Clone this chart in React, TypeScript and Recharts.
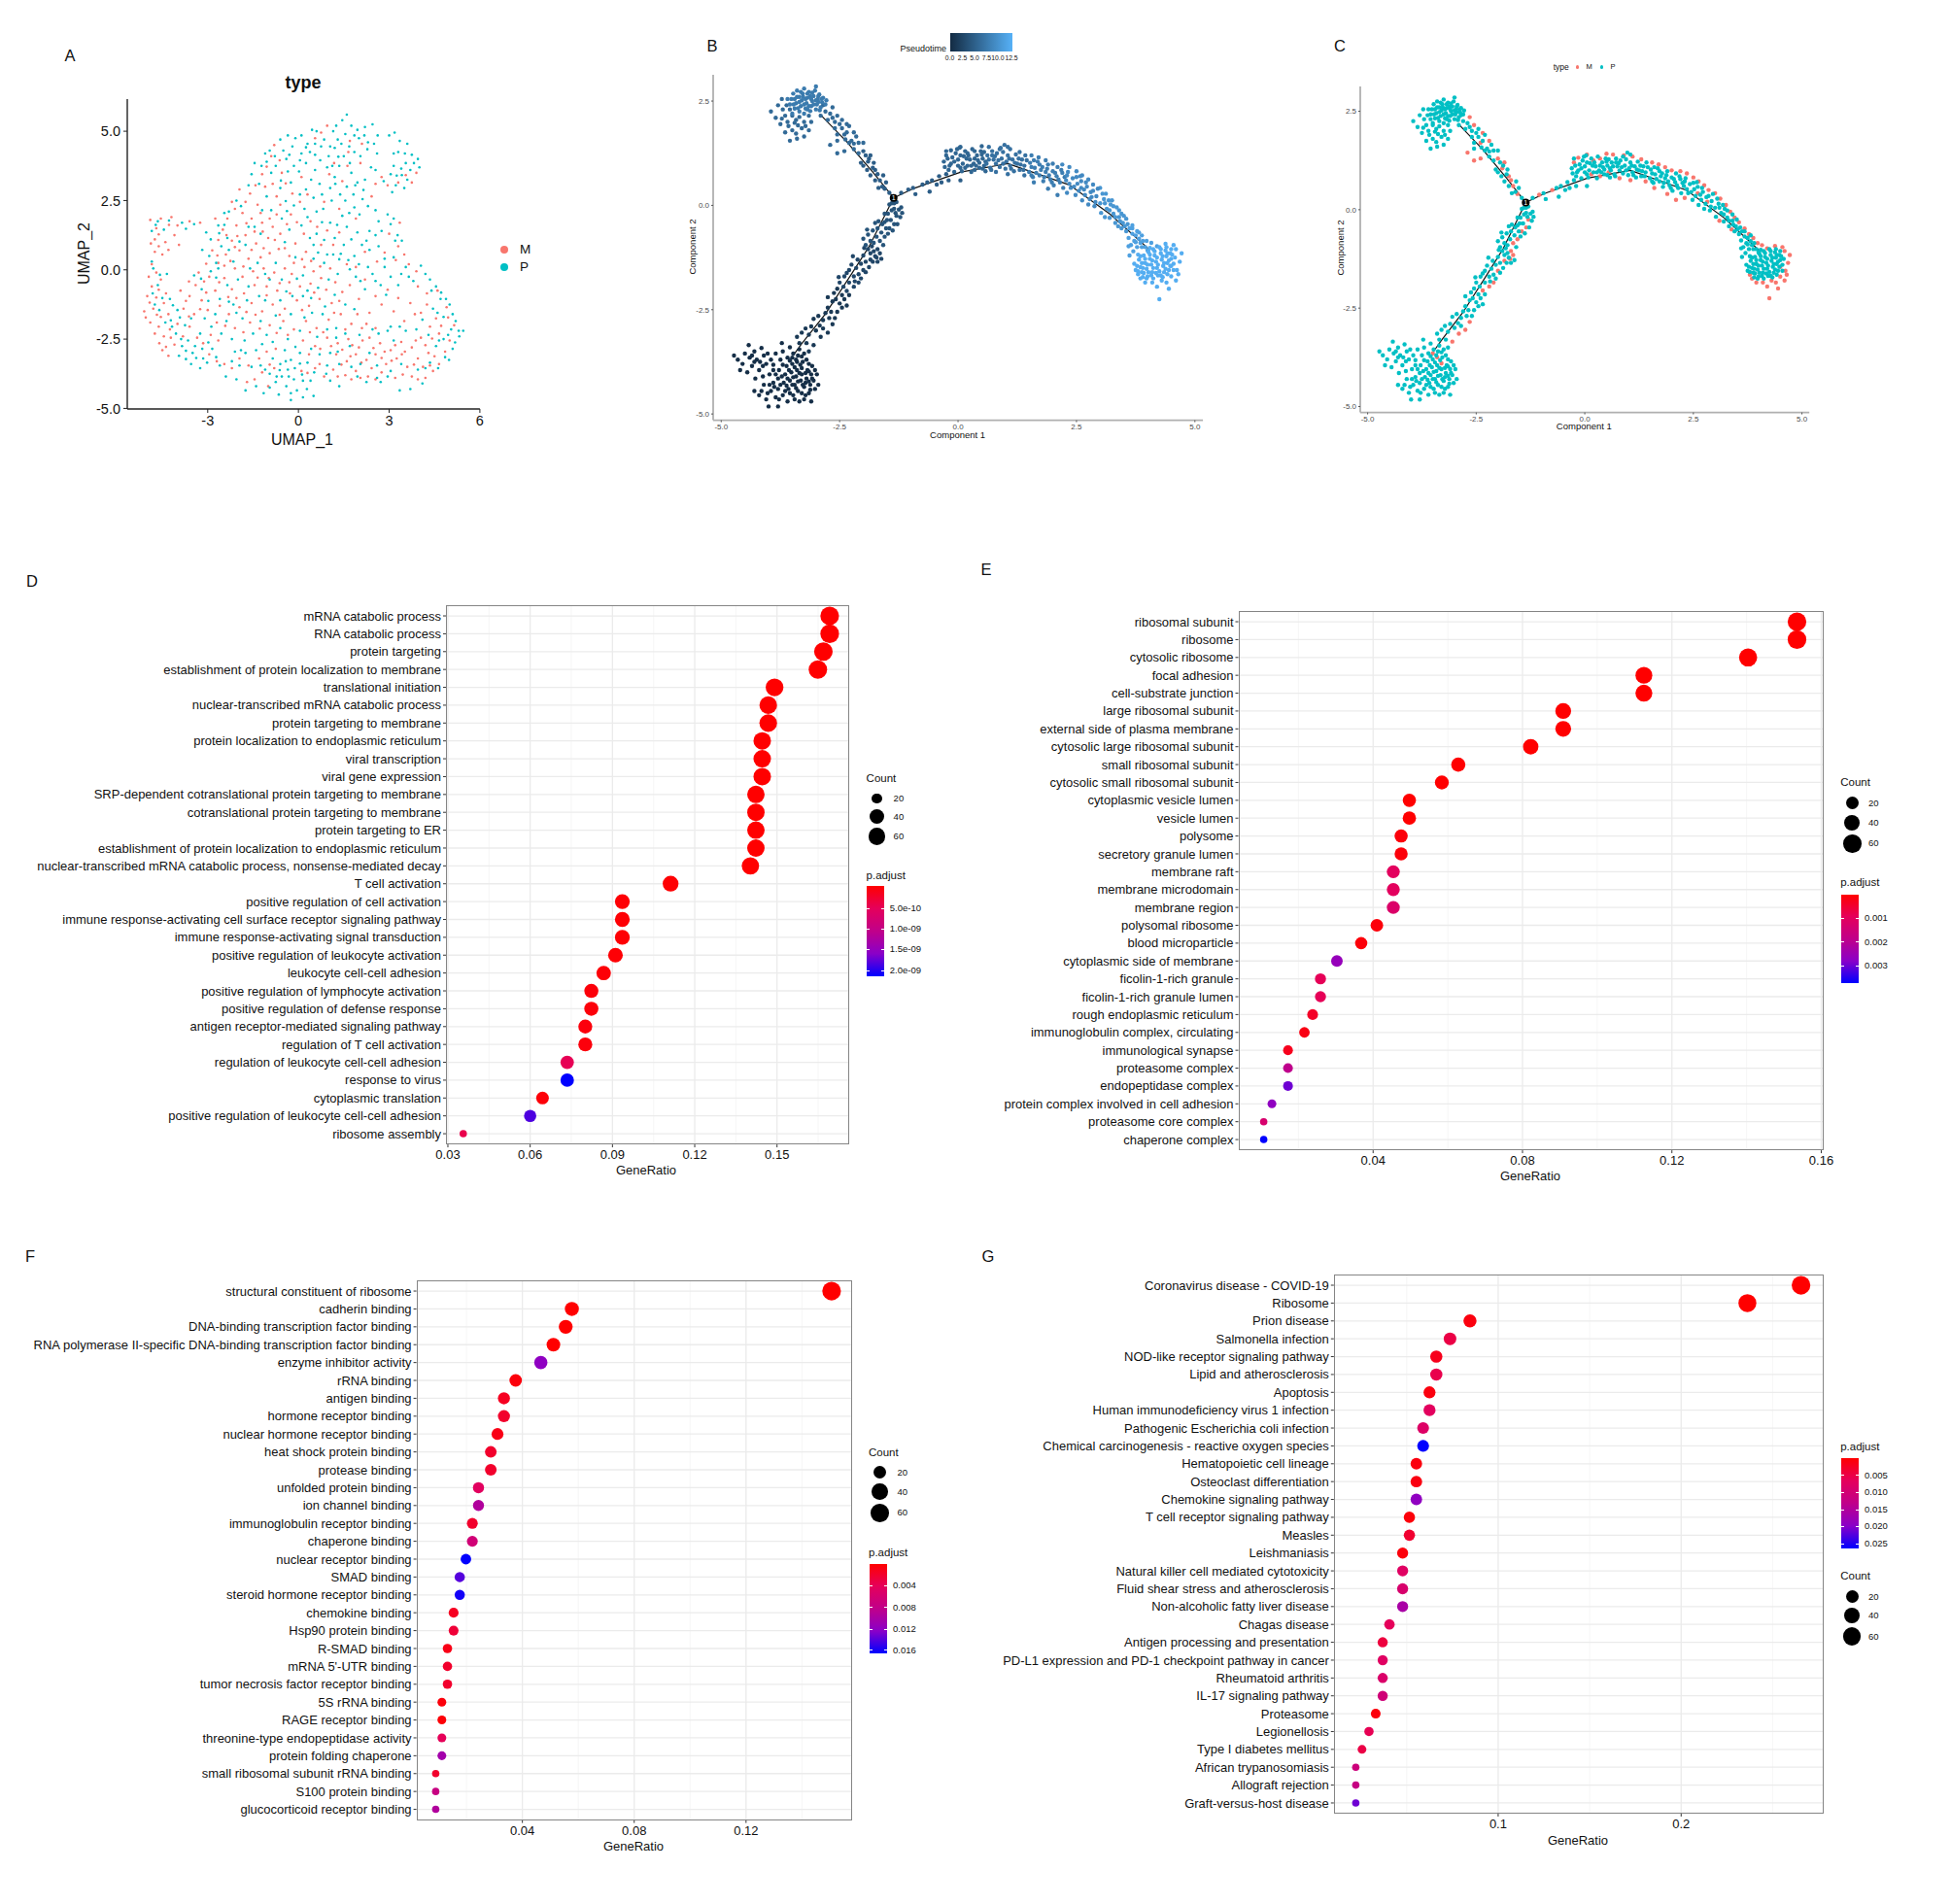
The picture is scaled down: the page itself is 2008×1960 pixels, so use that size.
import React from 'react';
import { CartesianGrid, Scatter, ScatterChart, XAxis, YAxis } from 'recharts';

const FONT = '"Liberation Sans", Arial, sans-serif';
const RED = '#F8766D';
const TEAL = '#00BFC4';
const GRADIENT = ['#FF0000', '#E5005B', '#C0008A', '#8A00C8', '#0000FF'];

// panel A, UMAP cells (thinned out)
const umapM = [
  [-4.9,1.8],[-4.7,1.5],[-4.75,1.1],[-4.55,1.85],[-4.2,1.9],[-4.0,1.6],[-4.1,1.25],[-4.4,1.0],[-3.95,.9],[-4.75,.65],[-4.5,.55],[-4.85,.2],[-4.7,-.1],[-4.55,-.35],[-4.85,-.6],[-5.0,-.95],[-4.7,-1.0],[-4.45,-1.2],[-5.1,-1.5],[-4.8,-1.4],[-4.55,-1.7],[-4.9,-1.9],[-4.3,-1.6],[-4.75,-2.3],[-4.45,-2.4],[-4.5,-2.9],[-4.3,-3.1],[-4.1,-2.7],[-4.0,-1.95],[-3.8,-1.4],[-3.6,-.95],[-3.9,-.75],
  [-3.4,-.55],[-3.2,-1.1],[-3.45,-1.6],[-3.0,-1.45],[-2.75,-.75],[-2.95,-.25],[-3.3,-.1],[-2.65,.25],[-2.85,.7],[-2.4,.55],[-2.2,1.05],[-2.5,1.45],[-2.75,1.85],[-3.25,1.7],[-3.6,1.75],[-2.35,1.85],[-2.05,1.6],[-1.85,2.05],[-2.2,2.45],[-1.95,2.9],[-1.6,2.75],[-1.35,2.35],[-1.55,1.85],[-1.2,1.7],[-1.75,1.25],[-1.4,.95],[-1.0,1.15],[-.85,1.55],[-.6,1.3],[-1.95,.7],[-1.65,.4],[-1.25,.45],[-.95,.6],[-.65,.75],[-.3,.5],[-.1,.95],[.25,.65],[-2.1,.05],[-1.85,-.25],[-1.5,-.05],[-1.15,.05],[-.8,-.1],[-.45,.05],[-.15,.25],[.2,.1],[.5,-.05],[-2.45,-.3],[-2.2,-.7],[-1.8,-.85],[-1.45,-.55],[-1.05,-.6],[-.7,-.75],[-.3,-.45],[.05,-.6],[.4,-.5],[.75,-.3],[1.05,.05],
  [-2.6,-1.3],[-2.3,-1.6],[-1.95,-1.35],[-1.55,-1.2],[-1.2,-1.5],[-.85,-1.25],[-.45,-1.4],[-.05,-1.1],[.35,-1.3],[.7,-1.05],[1.1,-1.2],[1.45,-.8],[-2.7,-1.9],[-2.1,-2.1],[-1.6,-1.9],[-.95,-2.0],[-.5,-1.85],[-.15,-2.15],[.25,-1.85],[.6,-2.1],[1.0,-1.8],[1.4,-1.6],[1.75,-1.95],[2.1,-2.1],[.15,-2.55],[.55,-2.75],[.95,-2.45],[1.3,-2.65],[1.65,-2.5],[2.0,-2.8],[2.35,-2.45],[2.7,-2.65],[3.05,-2.9],[3.4,-2.6],[3.75,-2.8],[4.05,-2.45],[1.25,-3.05],[1.6,-3.3],[1.9,-3.05],[2.25,-3.25],[2.55,-3.05],[2.9,-3.4],[3.25,-3.2],[3.6,-3.5],[3.95,-3.2],[4.3,-3.0],[4.65,-3.4],[4.85,-2.95],[1.15,-3.6],[1.55,-3.8],[1.9,-3.65],[2.3,-3.85],[2.75,-3.7],[3.2,-3.9],[3.75,-3.85],[4.2,-3.9],[4.45,-3.65],[-1.45,-3.95],[-1.0,-4.2],[-.8,-3.55],[.1,-3.65],[.7,-3.4],[.85,-3.85],[-2.95,-3.05],[-2.45,-3.4],[-1.95,-3.2],[-1.3,-3.2],[-.75,-2.85],[-3.6,-2.05],[-3.35,-2.45],[-2.9,-2.35],
  [4.55,-1.75],[4.9,-1.35],[5.15,-2.0],[5.0,-2.55],[4.65,-2.3],[4.35,-2.05],[4.6,-.75],[4.25,-1.25],[3.85,-1.6],[3.5,-1.85],[3.15,-1.5],[2.75,-1.25],[2.35,-1.55],[2.0,-1.05],[1.7,-.55],[3.9,-.05],[3.3,.85],[3.0,1.3],[3.35,1.7],[3.5,.55],[2.6,.3],[1.6,.2],[1.35,1.35],[.75,.9],[.4,1.75],[-.25,2.0],[-.6,2.35],[-.2,2.75],[-.85,3.1],[-.55,3.5],[.1,3.35],[-1.2,3.45],[-.9,4.1],[-.8,4.5],[.95,5.2],[.75,4.95],[1.7,4.65],[2.1,4.55],[2.05,3.85],[1.45,3.2],[2.55,3.1],[2.95,3.05],[3.3,3.15],[3.9,3.5],[1.35,2.2],[.85,2.45],[1.9,1.85],
  [-4.62,1.28],[-4.88,.95],[-4.28,1.62],[-4.62,.85],[-4.3,.72],[-4.95,-.25],[-4.62,-.72],[-4.38,-.85],[-4.92,-1.18],[-4.68,-1.62],[-5.05,-1.72],[-4.62,-2.05],[-4.25,-2.15],[-4.6,-2.65],[-4.22,-2.45],[-4.38,-2.78],[-3.82,-2.4],[-3.62,-1.68],[-3.72,-1.12],[-3.25,-1.42],[-3.05,-.82],[-3.62,-.42],[-3.12,-.42],[-3.05,.22],[-2.62,-.45],[-2.45,.15],[-2.68,.52],[-2.25,.32],[-2.1,.82],[-2.38,1.25],[-2.65,1.08],[-2.02,1.22],[-1.72,1.68],[-1.45,1.38],[-1.18,1.38],[-.95,1.85],[-1.25,2.05],[-1.75,2.45],[-1.42,3.05],[-2.1,2.2],[-.72,2.0],[-.38,1.65],[-.45,.78],[-.78,1.08],[-1.55,.72],[-1.15,.78],[-1.82,.12],[-1.35,-.28],[-.98,-.3],[-.62,-.48],[-.22,-.15],[.12,.38],[.42,.32],[.72,.12],[-2.32,-.98],[-2.05,-1.02],[-1.72,-1.52],[-1.42,-1.62],[-1.05,-.92],[-.62,-1.62],[-.28,-.85],[.12,-1.45],[.52,-.82],[.92,-.72],[1.22,-.45],[1.35,-1.12],[-2.42,-2.02],[-1.82,-2.25],[-1.28,-2.12],[-.72,-2.28],[-.35,-2.35],[.38,-2.25],[.82,-2.25],[1.18,-1.55],[1.55,-2.15],[1.95,-1.6],[2.25,-1.95],[2.55,-2.1],[.35,-3.05],[.72,-2.85],[1.08,-2.75],[1.45,-2.88],[1.78,-2.72],[2.12,-2.55],[2.48,-2.82],[2.85,-2.95],[3.2,-2.72],[3.52,-2.95],[3.88,-2.55],[4.2,-2.72],[1.42,-3.42],[1.72,-3.12],[2.08,-3.35],[2.42,-3.55],[2.75,-3.18],[3.08,-3.28],[3.42,-3.05],[3.82,-3.42],[4.12,-3.5],[4.5,-3.12],[1.3,-3.85],[1.75,-3.95],[2.05,-3.9],[2.55,-3.95],[3.45,-3.78],[3.95,-3.95],[4.35,-3.45],[-1.7,-4.05],[-1.2,-3.7],[-.95,-3.42],[.3,-3.72],[.55,-3.55],[-2.7,-3.3],[-2.2,-3.55],[-1.65,-3.45],[-1.05,-2.95],[-3.15,-2.65],[-2.65,-2.55],[4.72,-2.02],[4.95,-1.72],[4.42,-2.48],[4.25,-.85],[4.05,-1.55],[3.7,-1.2],[3.3,-1.02],[2.95,-.72],[2.55,-.95],[2.2,-.35],[3.95,-.6],[3.65,.2],[3.22,.35],[2.85,.62],[2.2,.65],[1.9,.1],[1.15,.9],[.95,1.42],[.62,1.55],[.18,1.3],[-.05,1.72],[.05,2.45],[.3,2.72],[-.42,3.12],[-.72,2.65],[-1.1,3.0],[-1.05,3.72],[-.62,3.95],[1.02,3.45],[1.18,3.85],[1.65,4.25],[.55,4.75],[1.62,3.75],[2.42,2.65],[3.55,3.42],[3.75,3.15],[2.75,3.35]
];
const umapP = [
  [-4.65,1.75],[-4.85,1.4],[-4.45,1.45],[-3.85,1.7],[-3.45,1.65],[-3.05,1.35],[-4.85,.3],[-4.65,-.55],[-4.35,-.15],[-4.75,-1.25],[-4.25,-1.05],[-4.0,-1.45],[-3.75,-2.0],[-4.4,-1.9],[-4.05,-2.3],[-3.65,-2.55],[-3.25,-2.3],[-3.85,-2.75],[-3.5,-3.0],[-3.95,-3.1],[-3.55,-3.4],[-3.15,-3.2],[-3.25,-3.55],[-2.85,-2.85],[-2.6,-3.45],[-3.1,-1.75],[-2.55,-2.3],[-2.2,-2.5],[-2.75,-1.6],[-3.2,-.7],[-3.45,-.2],[-2.9,-.05],[-2.65,.05],[-2.95,.5],[-2.55,.85],[-2.9,1.1],[-2.35,1.15],[-2.15,.3],[-2.0,-.35],[-1.65,-.6],[-1.3,-.95],[-2.3,-1.15],[-1.85,-1.75],[-1.25,-1.85],[-.75,-1.65],[-1.5,-2.3],[-1.05,-2.35],[-.35,-2.5],[.05,-2.2],[.45,-1.55],[.8,-1.6],[1.25,-2.1],[1.55,-2.3],[1.3,-2.95],[1.7,-2.75],[1.05,-3.0],[2.35,-3.0],[2.65,-2.3],[2.95,-2.2],[3.15,-2.55],[3.55,-2.2],[3.9,-2.15],[4.1,-1.8],[4.45,-1.4],[4.7,-1.05],[4.8,-1.7],[5.1,-1.6],[5.3,-2.2],[5.45,-2.2],[5.05,-2.15],[4.8,-2.5],[4.55,-2.75],[4.85,-3.15],[4.35,-3.35],[3.95,-3.6],[3.4,-3.4],[3.05,-3.65],[2.6,-3.45],[3.35,-4.35],[3.7,-4.3],[4.1,-4.1],[4.35,-.35],[4.55,-.6],[4.05,.15],[3.65,-.25],[3.3,-.55],[2.9,-.9],[2.55,-.4],[2.2,-.7],[1.9,-.25],[2.3,.1],[2.85,.1],[3.15,.45],[3.2,1.05],[3.05,1.65],[2.65,1.75],[2.35,1.4],[2.1,.9],[2.65,.85],[1.85,.5],[1.5,.9],[1.15,.55],[1.2,1.15],[.85,.25],[.5,.4],[.15,-.2],[.6,1.3],[1.05,1.7],[1.6,1.55],[1.45,1.95],[1.85,2.25],[2.3,2.3],[1.55,2.5],[1.1,2.5],[.6,2.1],[.2,2.2],[.1,1.6],[-.3,1.45],[-.55,1.85],[-.9,2.15],[-1.2,2.15],[-1.05,2.65],[-.6,2.95],[-.25,3.15],[.25,2.9],[.5,2.6],[.7,3.1],[1.05,2.95],[1.2,3.35],[1.6,3.0],[1.75,3.5],[1.35,3.75],[.95,3.7],[.55,3.6],[.25,3.85],[-.15,3.75],[-.4,4.0],[-.75,3.75],[-1.05,3.9],[-1.3,3.1],[-1.55,3.45],[-1.65,3.05],[-2.05,2.5],[-2.3,2.1],[-2.65,1.6],[-.95,4.3],[-.6,4.7],[-.5,4.3],[-.2,4.45],[.1,4.2],[.3,4.55],[.55,4.15],[.75,4.45],[1.0,4.1],[1.2,4.4],[1.5,4.1],[1.85,4.25],[.1,4.85],[.45,5.05],[.85,4.7],[1.15,5.0],[1.3,4.7],[1.45,5.4],[1.6,5.6],[1.75,5.2],[1.95,5.05],[2.2,5.15],[2.45,5.25],[1.55,4.9],[2.0,4.75],[2.5,4.55],[2.6,4.2],[3.0,4.85],[3.35,4.65],[3.6,4.55],[3.75,4.15],[3.55,3.85],[3.95,4.0],[4.0,3.7],[3.7,3.6],[3.4,3.65],[3.15,3.75],[3.25,3.4],[3.6,3.25],[3.05,3.45],[2.55,3.6],[3.5,2.95],[3.1,2.8],[2.4,3.7],[2.2,3.25],[1.95,3.15],
  [-2.15,-1.25],[-1.7,-1.1],[-1.1,-1.1],[-.6,-1.1],[-.2,-.95],[.15,-.95],[-.95,-.35],[-.55,-.35],[-1.35,.25],[-1.75,.9],[-1.25,1.3],[-.45,1.0],[-.75,.25],[-.1,.45],[.5,.9],[-1.65,1.55],[-1.9,2.3],[-1.45,1.55],[-2.45,2.05],
  [-.85,-3.2],[-.6,-3.4],[-.35,-3.6],[-.55,-3.85],[-.15,-3.95],[-.75,-4.05],[-.4,-4.2],[-.05,-4.35],[.15,-4.0],[-.95,-3.75],[-.25,-3.25],[-.45,-2.9],[.05,-3.0],[.3,-3.35],[.4,-4.0],[.5,-4.55],[.15,-4.6],[-.25,-4.7],[-.65,-4.5],[-1.15,-4.45],[-1.75,-4.35],[-2.05,-3.95],[-2.4,-3.85],[-1.95,-3.45],[-1.55,-3.5],[-1.4,-2.9],[-1.1,-3.6],[-2.1,-2.95],[.7,-3.05],[.95,-3.45],[1.35,-3.4],[1.35,-4.2],[1.75,-3.5],[2.05,-3.4],[2.6,-3.9],[.95,-2.15],[1.25,-2.45],
  [-4.72,1.62],[-4.28,1.78],[-3.72,1.48],[-4.8,.05],[-4.58,-.18],[-4.82,-.85],[-4.5,-1.02],[-4.15,-1.28],[-4.6,-1.45],[-4.22,-1.82],[-3.92,-1.72],[-3.55,-1.75],[-4.18,-2.05],[-3.88,-2.5],[-3.42,-2.75],[-3.72,-3.22],[-3.38,-3.18],[-3.02,-3.35],[-3.72,-2.92],[-3.18,-2.85],[-2.98,-2.62],[-2.72,-3.15],[-2.88,-2.05],[-2.38,-1.85],[-2.05,-1.55],[-2.6,-1.05],[-2.98,-1.12],[-3.22,-.32],[-2.72,-.28],[-2.35,-.55],[-2.3,.72],[-2.72,.25],[-3.18,.72],[-2.45,1.62],[-2.62,1.32],[-1.95,1.02],[-1.6,.05],[-1.1,-.15],[-.4,-.78],[-.05,-.32],[.3,-.75],[.65,-.65],[1.0,-.35],[1.3,-.15],[1.7,.02],[2.05,-.4],[2.45,-.15],[2.72,-.55],[3.05,-.25],[3.4,-.15],[3.55,.1],[3.8,-.4],[4.2,-.15],[4.4,-.75],[4.72,-.82],[4.88,-1.05],[5.0,-1.25],[4.6,-1.55],[5.2,-1.85],[5.32,-2.4],[5.18,-2.62],[4.95,-2.35],[4.65,-2.55],[4.3,-2.35],[5.1,-2.85],[4.98,-3.25],[4.62,-3.55],[4.2,-3.55],[2.95,-3.85],[3.05,-2.05],[3.35,-2.05],[2.45,-2.15],[2.02,-2.35],[1.85,-1.42],[1.55,-1.25],[1.2,-.9],[.88,-1.32],[.42,-1.02],[.2,-1.72],[-.25,-1.6],[-.6,-2.1],[-.85,-2.6],[-1.2,-2.68],[-1.78,-2.55],[-1.9,-2.9],[-.1,-2.78],[.42,-2.85],[.62,-2.42],[2.85,.4],[2.35,.72],[2.0,.2],[1.65,.35],[1.35,.38],[.95,.55],[.65,.62],[.85,1.08],[1.4,.58],[1.75,1.1],[1.95,1.35],[2.25,1.05],[2.55,1.25],[2.75,1.4],[3.15,1.85],[3.28,1.25],[3.42,1.05],[2.95,2.0],[2.55,2.15],[2.12,2.55],[2.02,2.0],[1.68,2.05],[1.28,1.62],[.78,1.72],[.38,1.15],[.82,2.2],[.3,1.9],[-.15,2.32],[-.42,2.48],[-.38,2.12],[.05,2.72],[.78,2.72],[1.38,2.72],[1.82,2.72],[1.88,3.05],[2.15,2.88],[1.22,3.1],[.42,3.25],[.02,3.55],[-.35,3.55],[-.58,3.22],[-.9,3.5],[-1.22,3.75],[-1.45,3.85],[-1.1,4.2],[-.78,4.1],[-.3,4.15],[.05,3.95],[.38,4.25],[.72,3.95],[1.12,3.75],[1.32,4.08],[1.7,3.85],[2.05,4.1],[2.28,4.35],[-.35,4.85],[-.1,4.75],[.25,4.42],[.55,4.55],[.6,5.0],[1.05,4.45],[1.25,5.2],[1.42,4.55],[1.68,4.45],[1.85,4.85],[2.18,4.85],[2.3,4.6],[2.62,4.85],[3.18,4.95],[3.3,4.25],[3.52,4.2],[3.15,4.2],[3.82,3.85],[3.42,3.42],[3.22,3.05],[2.82,3.2],[-.32,-3.85],[-.62,-3.62],[-.12,-3.55],[.12,-3.78],[-.42,-3.3],[-.72,-3.85],[-.25,-4.45],[.28,-4.3],[.05,-3.38],[-.95,-4.25],[-1.4,-4.2],[-2.2,-3.3],[-1.75,-3.0],[-1.25,-3.45],[.52,-3.7],[.92,-3.75],[1.05,-4.0],[1.95,-3.85],[2.25,-4.05],[2.72,-4.05]
];

// panels B and C share the same cells, grouped along the tree by pseudotime
const cellBands = [
  { pseudotime: 0.3, m: [[-3.4,-3.75],[-3.3,-3.9],[-3.5,-3.65]], p: [
    [-4.73,-3.6],[-4.65,-3.7],[-4.55,-3.8],[-4.6,-3.95],[-4.5,-3.55],[-4.42,-3.35],[-4.4,-3.65],[-4.35,-3.85],[-4.45,-4.0],[-4.3,-3.5],[-4.25,-3.7],[-4.2,-3.95],[-4.15,-3.42],[-4.1,-3.6],[-4.05,-3.8],[-4.28,-4.15],[-4.12,-4.1],[-3.98,-4.05],[-3.95,-3.7],[-4.3,-4.45],[-4.2,-4.55],[-4.1,-4.3],[-4.05,-4.65],[-3.95,-4.45],[-3.9,-4.25],[-4.0,-4.82],[-3.85,-4.6],[-3.8,-4.82],[-3.8,-4.4],[-3.8,-4.15],[-3.78,-3.95],[-3.75,-3.7],[-3.7,-3.5],[-3.68,-4.25],[-3.7,-4.55],[-3.65,-4.05],[-3.62,-3.85],[-3.6,-3.65],[-3.58,-4.4],[-3.6,-4.7],[-3.55,-4.2],[-3.52,-4.0],[-3.5,-3.8],[-3.48,-3.55],[-3.48,-4.55],[-3.45,-4.3],[-3.42,-4.1],[-3.4,-3.95],[-3.38,-3.6],[-3.38,-4.45],[-3.35,-4.7],[-3.32,-4.2],[-3.3,-4.05],[-3.28,-3.75],[-3.25,-3.55],[-3.25,-4.35],[-3.22,-4.55],[-3.2,-4.15],[-3.18,-3.95],[-3.15,-3.8],[-3.12,-4.3],[-3.1,-4.05],[-3.08,-3.85],[-3.05,-4.2],[-3.02,-4.4],[-2.98,-4.05],[-2.95,-4.3],[-3.1,-4.7],[-3.35,-3.45],[-3.55,-3.4],[-3.85,-3.55],[-3.72,-3.3],[-3.15,-4.5],[-3.9,-3.95],
    [-3.85,-4.05],[-3.75,-4.3],[-3.72,-4.1],[-3.7,-3.82],[-3.62,-4.32],[-3.6,-4.15],[-3.57,-3.95],[-3.55,-3.72],[-3.55,-4.5],[-3.5,-4.3],[-3.48,-4.12],[-3.45,-3.88],[-3.42,-3.7],[-3.42,-4.38],[-3.38,-4.22],[-3.35,-4.02],[-3.33,-3.82],[-3.3,-3.62],[-3.3,-4.5],[-3.28,-4.3],[-3.22,-4.25],[-3.22,-4.02],[-3.2,-3.7],[-3.15,-4.22],[-3.15,-3.98],[-3.12,-4.42],[-3.08,-4.15],[-3.02,-3.95],[-4.35,-3.6],[-4.3,-3.75],[-4.18,-3.75],[-4.12,-3.85],[-4.02,-3.55],[-3.98,-4.3],[-4.02,-4.5],[-3.88,-4.35],[-3.9,-3.82],[-3.65,-4.45],[-3.45,-4.65],[-3.25,-4.65],[-4.15,-4.45],[-3.78,-4.65]
  ] },
  { pseudotime: 1.3, m: [[-3.05,-3.35],[-2.9,-3.15],[-2.75,-3.05],[-2.65,-2.85]], p: [
    [-3.35,-3.3],[-3.2,-3.3],[-3.3,-3.05],[-3.15,-3.1],[-3.1,-2.9],[-3.0,-3.0],[-3.05,-2.72],[-2.95,-2.65],[-3.15,-3.5],[-2.85,-2.75],[-2.85,-2.95],[-2.72,-2.7],[-2.75,-2.45],[-2.6,-2.7],[-2.65,-2.3],[-2.55,-2.55],[-2.5,-2.35],[-2.75,-2.2],[-2.45,-2.45],[-2.62,-2.1],[-2.4,-2.25],[-2.55,-2.0],[-2.3,-2.15],
    [-3.4,-3.15],[-3.22,-2.95],[-2.92,-2.88],[-2.8,-2.58],[-2.68,-2.55],[-2.58,-2.25],[-2.45,-2.15],[-2.35,-2.4]
  ] },
  { pseudotime: 2.6, m: [[-2.35,-2.05],[-2.2,-1.95],[-2.1,-1.85],[-2.0,-1.55],[-1.85,-1.3],[-1.72,-1.25],[-1.65,-1.15],[-1.7,-1.05]], p: [
    [-2.5,-1.85],[-2.42,-1.95],[-2.4,-1.7],[-2.3,-1.85],[-2.3,-1.55],[-2.2,-1.7],[-2.25,-1.42],[-2.15,-1.5],[-2.1,-1.65],[-2.12,-1.3],[-2.05,-1.4],[-2.0,-1.2],[-1.95,-1.35],[-1.9,-1.05],[-1.85,-1.15],[-1.8,-1.35],[-1.78,-1.1],
    [-2.52,-1.72],[-2.35,-1.62],[-2.18,-1.82],[-2.22,-1.22],[-2.05,-1.75],[-1.95,-1.6],[-1.88,-1.48],[-1.75,-1.22],[-1.98,-1.02],[-1.82,-.98],[-1.7,-1.35],[-1.62,-1.28]
  ] },
  { pseudotime: 3.9, m: [[-1.65,-.85],[-1.55,-.75],[-1.45,-.55],[-1.35,-.45],[-1.3,-.25]], p: [
    [-2.0,-.8],[-1.95,-.95],[-1.9,-.7],[-1.85,-.85],[-1.8,-.6],[-1.78,-.9],[-1.72,-.75],[-1.7,-.55],[-1.62,-.65],[-1.6,-.45],[-1.58,-.95],[-1.52,-.55],[-1.5,-.35],[-1.48,-.2],[-1.42,-.35],[-1.4,-.12],[-1.35,-.08],[-1.28,-.45],[-1.25,-.1],[-1.3,.08],[-1.4,.05],[-1.2,-.05],
    [-1.92,-.58],[-1.75,-.42],[-1.68,-.38],[-1.55,-.2],[-1.55,-.4],[-1.48,-.68],[-1.38,-.6],[-1.32,-.18],[-1.22,-.28],[-1.18,-.18],[-1.45,.02],[-1.35,.05]
  ] },
  { pseudotime: 4.8, m: [[-1.55,.4],[-1.65,.6],[-1.75,.85],[-1.9,1.05],[-1.7,.75],[-1.85,1.2],[-2.0,1.3],[-1.05,.38],[-.75,.5]], p: [
    [-1.45,.3],[-1.52,.55],[-1.6,.45],[-1.75,.6],[-1.8,.9],[-1.92,.85],[-2.05,1.02],[-1.95,1.2],[-1.2,.3],[-.95,.42],[-.9,.27],[-.65,.55],[-.6,.33],[-.55,.6],[-.45,.5],[-.4,.7],[-.35,.55],[-.25,.75],[-.2,.6],[.05,.6],
    [-1.58,.72],[-1.68,.42],[-1.85,.72],[-2.0,.95],[-1.88,1.12],[-1.78,1.02]
  ] },
  { pseudotime: 6.0, m: [[-2.4,1.3],[-2.55,1.25],[-2.7,1.45],[-2.2,1.75],[-2.35,1.95],[-2.55,2.15],[-2.65,2.35],[-2.4,1.7]], p: [
    [-2.1,1.25],[-2.2,1.35],[-2.1,1.5],[-2.0,1.5],[-2.25,1.55],[-2.3,1.5],[-2.15,1.65],[-2.35,1.75],[-2.45,1.85],[-2.3,1.9],[-2.5,1.95],[-2.45,2.05],[-2.6,2.0],[-2.55,1.7],[-2.7,2.2],[-2.75,2.05],[-2.8,2.25],[-2.85,2.4],[-2.9,2.15],
    [-3.55,1.55],[-3.4,1.6],[-3.25,1.65],[-3.65,1.75],[-3.5,1.8],[-3.3,1.85],[-3.15,1.8],[-3.75,1.95],[-3.6,2.0],[-3.45,1.98],[-3.25,2.0],[-3.1,2.0],[-3.85,2.1],[-3.65,2.15],[-3.5,2.15],[-3.35,2.12],[-3.15,2.15],[-3.7,2.3],[-3.8,2.4],[-3.95,2.25],[-3.55,2.3],[-3.72,2.55],
    [-3.42,1.72],[-3.58,1.9],[-3.38,1.92],[-3.22,1.9],[-3.72,2.08],[-3.42,2.05],[-3.62,2.4],[-2.6,1.85],[-2.65,2.1],[-2.38,1.58],[-2.2,1.48],[-2.55,1.55]
  ] },
  { pseudotime: 7.6, m: [], p: [
    [-3.5,2.2],[-3.45,2.32],[-3.42,2.45],[-3.4,2.6],[-3.35,2.25],[-3.32,2.38],[-3.3,2.52],[-3.28,2.68],[-3.25,2.2],[-3.22,2.32],[-3.2,2.45],[-3.18,2.58],[-3.15,2.72],[-3.12,2.26],[-3.1,2.38],[-3.08,2.5],[-3.05,2.62],[-3.02,2.75],[-3.0,2.3],[-2.98,2.42],[-2.96,2.55],[-2.93,2.66],[-2.9,2.35],[-2.87,2.47],[-2.85,2.58],[-3.55,2.42],[-3.52,2.55],[-3.48,2.68],[-3.25,2.8],[-3.0,2.85],[-3.4,2.75],[-2.8,2.42],[-2.78,2.52],[-3.6,2.55],[-3.35,2.48],[-3.15,2.38],[-3.05,2.42],[-2.95,2.48],[-3.27,2.6],[-3.12,2.62],[-3.38,2.33],
    [-3.47,2.42],[-3.45,2.55],[-3.35,2.6],[-3.22,2.55],[-3.25,2.42],[-3.1,2.55],[-3.18,2.3],[-3.0,2.52],[-2.92,2.28],[-2.88,2.55],[-3.32,2.72],[-3.08,2.7],[-2.95,2.62],[-3.18,2.68]
  ] },
  { pseudotime: 5.6, m: [[-.25,1.2],[-.15,1.32],[.05,1.4],[.2,1.25],[.15,.9],[.35,1.3],[.35,.85],[.5,1.42],[.55,.95]], p: [
    [-.3,1.05],[-.28,.92],[-.25,1.3],[-.2,.85],[-.15,1.0],[-.12,1.15],[-.08,.8],[-.05,1.25],[0,.95],[0,1.1],[.03,1.38],[.08,.82],[.1,1.0],[.12,1.18],[.15,1.3],[.2,.95],[.25,1.1],[.28,.8],[.3,1.35],[.33,1.0],[.4,1.2],[.42,1.08],[.45,.9],[.48,1.3],[.52,1.12],[.55,1.28],[.58,.82],
    [-.22,1.12],[-.18,.95],[-.08,1.05],[-.02,1.35],[.05,1.2],[.05,.9],[.18,1.12],[.22,1.2],[.28,.95],[.35,1.12],[.38,.95],[.45,1.02],[.5,1.22],[.52,.88],[.58,1.05]
  ] },
  { pseudotime: 6.6, m: [[.65,1.4],[.8,.8],[.9,1.38],[1.1,1.35],[1.05,.75],[1.3,1.28],[1.4,.72]], p: [
    [.6,1.0],[.62,1.2],[.68,.9],[.72,1.3],[.75,1.1],[.8,1.0],[.82,1.25],[.88,.92],[.92,1.12],[.95,1.28],[1.0,.88],[1.02,1.05],[1.05,1.2],[1.1,.95],[1.15,1.1],[1.18,.82],[1.22,1.22],[1.25,1.0],[1.3,.85],[1.35,1.1],[1.4,.95],[1.42,1.2],[.98,1.45],[1.05,1.4],
    [.65,1.1],[.7,.85],[.78,1.18],[.85,1.08],[.95,1.0],[1.08,1.12],[1.12,.88],[1.2,1.02],[1.28,1.12],[1.32,.98],[1.38,.85],[1.45,1.08],[.72,1.2],[.88,1.35]
  ] },
  { pseudotime: 7.8, m: [[1.55,1.2],[1.7,1.15],[1.85,1.08],[2.0,1.0],[1.6,.55],[1.9,.4],[2.1,.25]], p: [
    [1.5,.8],[1.52,1.02],[1.58,.68],[1.62,.9],[1.68,1.05],[1.72,.72],[1.78,.92],[1.8,.58],[1.85,.8],[1.9,.98],[1.95,.62],[2.0,.82],[2.02,.48],[2.08,.7],[2.1,.92],[2.15,.55],[2.2,.78],[2.22,.42],
    [1.55,.92],[1.6,1.08],[1.65,.78],[1.72,.98],[1.75,.85],[1.82,.68],[1.88,.88],[1.92,.72],[1.98,.55],[2.05,.78],[2.12,.62],[2.18,.85],[1.55,.72],[2.25,.68]
  ] },
  { pseudotime: 9.0, m: [[2.2,.98],[2.35,.92],[2.5,.82],[2.62,.72],[2.75,.62],[2.85,.5],[2.3,.3],[2.6,.42],[2.82,.2]], p: [
    [2.28,.6],[2.32,.8],[2.38,.42],[2.42,.65],[2.48,.25],[2.52,.52],[2.58,.7],[2.62,.12],[2.66,.38],[2.7,.55],[2.75,.02],[2.8,.32],[2.88,-.02],[2.92,.22],[2.95,.4],
    [2.3,.72],[2.35,.52],[2.45,.45],[2.5,.68],[2.55,.35],[2.6,.58],[2.68,.25],[2.72,.45],[2.78,.15],[2.85,.35],[2.9,.08]
  ] },
  { pseudotime: 10.2, m: [[3.0,.42],[3.12,.28],[3.25,.12],[3.35,-.05],[3.45,-.2],[3.55,-.32],[3.1,-.28],[3.38,-.5]], p: [
    [3.0,.05],[3.02,-.18],[3.08,.15],[3.14,-.08],[3.2,-.3],[3.22,.02],[3.28,-.2],[3.32,-.42],[3.4,-.28],[3.45,-.55],[3.48,-.42],[3.55,-.62],[3.58,-.45],
    [3.05,.28],[3.1,.05],[3.18,.12],[3.2,-.12],[3.28,-.02],[3.32,-.28],[3.4,-.12],[3.42,-.38],[3.5,-.25],[3.52,-.5]
  ] },
  { pseudotime: 11.2, m: [[3.68,-.48],[3.78,-.62],[3.88,-.72],[3.98,-.85],[4.08,-.9],[4.2,-.98]], p: [
    [3.6,-.78],[3.65,-.95],[3.68,-.68],[3.72,-.85],[3.78,-1.0],[3.82,-.8],[3.88,-1.0],[3.7,-1.1],[3.62,-1.2],[3.95,-1.0],[4.0,-1.08],
    [3.62,-.55],[3.68,-.55],[3.75,-.72],[3.82,-.65],[3.9,-.85],[3.6,-.98],[3.75,-.88],[3.85,-.9]
  ] },
  { pseudotime: 12.4, m: [
    [3.8,-1.65],[3.85,-1.75],[3.95,-1.85],[4.1,-1.85],[4.2,-1.95],[4.3,-1.8],[4.4,-1.85],[4.5,-1.7],[4.6,-1.8],[4.62,-1.55],[4.68,-1.35],[4.72,-1.15],[4.6,-1.05],[4.55,-.95],[4.45,-2.0],[4.25,-2.25],[4.5,-1.45],[4.38,-.92],[4.65,-1.65]
  ], p: [
    [3.72,-1.4],[3.75,-1.55],[3.82,-1.3],[3.85,-1.48],[3.88,-1.6],[3.92,-1.2],[3.95,-1.38],[3.98,-1.52],[4.02,-1.12],[4.05,-1.28],[4.08,-1.42],[4.1,-1.6],[4.12,-1.05],[4.15,-1.2],[4.18,-1.35],[4.2,-1.5],[4.22,-1.68],[4.25,-1.0],[4.28,-1.15],[4.3,-1.3],[4.33,-1.45],[4.35,-1.6],[4.38,-1.08],[4.4,-1.22],[4.42,-1.38],[4.45,-1.55],[4.48,-1.15],[4.5,-1.28],[3.9,-1.72],[4.0,-1.7],[4.12,-1.75],[4.32,-1.72],[3.8,-1.18],[4.55,-1.4],
    [3.78,-1.45],[3.8,-1.58],[3.88,-1.38],[3.9,-1.5],[3.95,-1.28],[4.0,-1.42],[4.02,-1.6],[4.05,-1.18],[4.1,-1.32],[4.12,-1.5],[4.15,-1.1],[4.2,-1.25],[4.22,-1.42],[4.25,-1.58],[4.28,-1.05],[4.32,-1.22],[4.35,-1.38],[4.38,-1.52],[4.4,-1.0],[4.42,-1.15],[4.45,-1.32],[4.48,-1.45],[4.52,-1.18],[4.55,-1.55],[3.98,-1.75],[4.08,-1.68],[4.18,-1.62],[4.28,-1.68],[4.42,-1.65],[4.5,-1.05],[4.58,-1.25],[3.85,-1.22],[3.92,-1.62],[4.05,-1.02]
  ] }
];
const cellsM = cellBands.flatMap((b) => b.m.map(([x, y]) => ({ x, y, t: b.pseudotime })));
const cellsP = cellBands.flatMap((b) => b.p.map(([x, y]) => ({ x, y, t: b.pseudotime })));

const treeStem = [[-1.36,.18],[-1.88,-.99],[-2.23,-1.61],[-2.8,-2.6],[-3.31,-3.33],[-3.45,-3.55]];
const treeUpper = [[-1.36,.18],[-1.8,.8],[-2.36,1.54],[-2.92,2.19]];
const treeRight = [[-1.36,.18],[-.93,.41],[.06,.8],[1.05,1.0],[2.35,.49],[3.21,-.21],[4.05,-1.07]];
const treeNode = [[-1.36,.18]];

// panel D, biological process
const labelsD = ['mRNA catabolic process','RNA catabolic process','protein targeting','establishment of protein localization to membrane','translational initiation','nuclear-transcribed mRNA catabolic process','protein targeting to membrane','protein localization to endoplasmic reticulum','viral transcription','viral gene expression','SRP-dependent cotranslational protein targeting to membrane','cotranslational protein targeting to membrane','protein targeting to ER','establishment of protein localization to endoplasmic reticulum','nuclear-transcribed mRNA catabolic process, nonsense-mediated decay','T cell activation','positive regulation of cell activation','immune response-activating cell surface receptor signaling pathway','immune response-activating signal transduction','positive regulation of leukocyte activation','leukocyte cell-cell adhesion','positive regulation of lymphocyte activation','positive regulation of defense response','antigen receptor-mediated signaling pathway','regulation of T cell activation','regulation of leukocyte cell-cell adhesion','response to virus','cytoplasmic translation','positive regulation of leukocyte cell-cell adhesion','ribosome assembly'];
const ratiosD = [.1692,.1692,.1669,.1649,.1491,.1468,.1468,.1446,.1446,.1446,.1423,.1423,.1423,.1423,.1403,.1112,.0936,.0936,.0936,.0911,.0868,.0823,.0823,.0801,.0801,.0735,.0735,.0645,.06,.0356];
const countsD = [75,75,74,73,66,65,65,64,64,64,63,63,63,63,62,49,42,42,42,41,39,37,37,36,36,33,33,29,27,16];
const padjD = [1e-12,1e-12,1e-12,1e-12,1e-12,1e-12,1e-12,1e-12,1e-12,1e-12,1e-12,1e-12,1e-12,1e-12,1e-12,2e-11,3e-11,3e-11,3e-11,3e-11,4e-11,6e-11,6e-11,7e-11,7e-11,5e-10,2.15e-9,5e-11,1.85e-9,4.5e-10];

// panel E, cellular component
const labelsE = ['ribosomal subunit','ribosome','cytosolic ribosome','focal adhesion','cell-substrate junction','large ribosomal subunit','external side of plasma membrane','cytosolic large ribosomal subunit','small ribosomal subunit','cytosolic small ribosomal subunit','cytoplasmic vesicle lumen','vesicle lumen','polysome','secretory granule lumen','membrane raft','membrane microdomain','membrane region','polysomal ribosome','blood microparticle','cytoplasmic side of membrane','ficolin-1-rich granule','ficolin-1-rich granule lumen','rough endoplasmic reticulum','immunoglobulin complex, circulating','immunological synapse','proteasome complex','endopeptidase complex','protein complex involved in cell adhesion','proteasome core complex','chaperone complex'];
const ratiosE = [.1535,.1535,.1404,.1125,.1125,.0909,.0909,.0822,.0628,.0584,.0497,.0497,.0475,.0475,.0454,.0454,.0454,.041,.0368,.0303,.0259,.0259,.0238,.0216,.0172,.0172,.0172,.0129,.0107,.0107];
const countsE = [70,70,64,51,51,41,41,38,29,27,23,23,22,22,21,21,21,19,17,14,12,12,11,10,8,8,8,6,5,5];
const padjE = [1e-6,1e-6,1e-6,1e-6,1e-6,1e-6,1e-6,1e-6,1e-5,1e-5,1e-5,1e-5,1e-4,1e-4,.001,.001,.0012,.0001,.0001,.0026,.0009,.0009,.0004,.0002,.0003,.0019,.003,.0027,.0013,.00375];

// panel F, molecular function
const labelsF = ['structural constituent of ribosome','cadherin binding','DNA-binding transcription factor binding','RNA polymerase II-specific DNA-binding transcription factor binding','enzyme inhibitor activity','rRNA binding','antigen binding','hormone receptor binding','nuclear hormone receptor binding','heat shock protein binding','protease binding','unfolded protein binding','ion channel binding','immunoglobulin receptor binding','chaperone binding','nuclear receptor binding','SMAD binding','steroid hormone receptor binding','chemokine binding','Hsp90 protein binding','R-SMAD binding',"mRNA 5'-UTR binding",'tumor necrosis factor receptor binding','5S rRNA binding','RAGE receptor binding','threonine-type endopeptidase activity','protein folding chaperone','small ribosomal subunit rRNA binding','S100 protein binding','glucocorticoid receptor binding'];
const ratiosF = [.1506,.0577,.0555,.0511,.0466,.0376,.0334,.0334,.0311,.0287,.0287,.0243,.0243,.0221,.0221,.0198,.0176,.0176,.0154,.0154,.0132,.0132,.0132,.0112,.0112,.0112,.0112,.009,.009,.009];
const countsF = [67,26,25,23,21,17,15,15,14,13,13,11,11,10,10,9,8,8,7,7,6,6,6,5,5,5,5,4,4,4];
const padjF = [1e-6,1e-5,1e-5,1e-5,.012,.0005,.0015,.002,.001,.002,.002,.0045,.0095,.002,.0065,.0165,.014,.016,.0015,.0025,.001,.002,.002,.0005,.0003,.004,.0105,.002,.0075,.0095];

// panel G, KEGG
const labelsG = ['Coronavirus disease - COVID-19','Ribosome','Prion disease','Salmonella infection','NOD-like receptor signaling pathway','Lipid and atherosclerosis','Apoptosis','Human immunodeficiency virus 1 infection','Pathogenic Escherichia coli infection','Chemical carcinogenesis - reactive oxygen species','Hematopoietic cell lineage','Osteoclast differentiation','Chemokine signaling pathway','T cell receptor signaling pathway','Measles','Leishmaniasis','Natural killer cell mediated cytotoxicity','Fluid shear stress and atherosclerosis','Non-alcoholic fatty liver disease','Chagas disease','Antigen processing and presentation','PD-L1 expression and PD-1 checkpoint pathway in cancer','Rheumatoid arthritis','IL-17 signaling pathway','Proteasome','Legionellosis','Type I diabetes mellitus','African trypanosomiasis','Allograft rejection','Graft-versus-host disease'];
const ratiosG = [.2655,.2362,.0846,.0737,.0662,.0662,.0625,.0625,.059,.059,.0553,.0553,.0553,.0515,.0515,.0478,.0478,.0478,.0478,.0406,.0369,.0369,.0369,.0369,.0331,.0294,.0256,.0222,.0222,.0222];
const countsG = [72,64,23,20,18,18,17,17,16,16,15,15,15,14,14,13,13,13,13,11,10,10,10,10,9,8,7,6,6,6];
const padjG = [1e-5,1e-5,.001,.005,.002,.0055,.001,.007,.008,.0263,.001,.0012,.019,.0007,.0035,.0008,.0075,.009,.016,.0065,.0045,.0075,.0085,.0105,.0008,.006,.005,.011,.012,.021];

const rowTicks = labelsD.map((_, i) => i + 1);

function mixColor(t: number) {
  const pos = Math.min(Math.max(t, 0), 1) * (GRADIENT.length - 1);
  const i = Math.min(Math.floor(pos), GRADIENT.length - 2);
  const f = pos - i;
  const hex = (c: string, k: number) => parseInt(c.slice(k, k + 2), 16);
  const part = (k: number) => Math.round(hex(GRADIENT[i], k) + (hex(GRADIENT[i + 1], k) - hex(GRADIENT[i], k)) * f);
  return `rgb(${part(1)},${part(3)},${part(5)})`;
}

function pseudotimeColor(t: number) {
  const f = t / 12.8;
  const a = [0x13, 0x2b, 0x43];
  const b = [0x56, 0xb1, 0xf7];
  return `rgb(${a.map((v, i) => Math.round(v + (b[i] - v) * f)).join(',')})`;
}

type TextProps = { x: number; y: number; size: number; anchor?: string; bold?: boolean; rotate?: boolean; color?: string; children: React.ReactNode };

function Txt({ x, y, size, anchor = 'middle', bold, rotate, color = '#111', children }: TextProps) {
  const tx = anchor === 'middle' ? '-50%' : anchor === 'end' ? '-100%' : '0';
  return (
    <div
      style={{
        position: 'absolute',
        left: x,
        top: y,
        fontSize: size,
        lineHeight: 1,
        whiteSpace: 'nowrap',
        fontWeight: bold ? 700 : 400,
        color,
        transform: `translate(${tx},-50%)${rotate ? ' rotate(-90deg)' : ''}`,
      }}
    >
      {children}
    </div>
  );
}

function Dot({ x, y, r, color = '#000' }: { x: number; y: number; r: number; color?: string }) {
  return <div style={{ position: 'absolute', left: x - r, top: y - r, width: r * 2, height: r * 2, borderRadius: '50%', background: color }} />;
}

type DotPanelProps = {
  left: number; right: number; top: number; bottom: number;
  labels: string[]; ratios: number[]; counts: number[]; padj: number[];
  domain: number[]; ticks: number[]; minor: number[]; digits: number; padjMax: number;
  axisTitleX: number; axisTitleY: number;
};

function radiusScale(counts: number[]) {
  const lo = Math.min(...counts);
  const hi = Math.max(...counts);
  return (c: number) => 3.8 + Math.sqrt((c - lo) / (hi - lo)) * 5.8;
}

function DotPanel(p: DotPanelProps) {
  const yw = p.left - 4;
  const radius = radiusScale(p.counts);
  const data = p.labels.map((label, i) => ({
    label,
    ratio: p.ratios[i],
    row: i + 1,
    r: radius(p.counts[i]),
    fill: mixColor(p.padj[i] / p.padjMax),
  }));
  const w = p.right - p.left;
  const h = p.bottom - p.top;
  return (
    <>
      <div style={{ position: 'absolute', left: 4, top: p.top - 20 }}>
        <ScatterChart width={yw + w + 30} height={h + 60} margin={{ top: 20, right: 30, bottom: 0, left: 0 }}>
          <CartesianGrid stroke="#F2F2F2" strokeWidth={0.7} horizontal={false} verticalValues={p.minor} />
          <CartesianGrid stroke="#EBEBEB" strokeWidth={1.3} horizontalValues={rowTicks} verticalValues={p.ticks} />
          <XAxis
            type="number"
            dataKey="ratio"
            domain={p.domain}
            ticks={p.ticks}
            interval={0}
            height={40}
            tickSize={3}
            tickMargin={3}
            axisLine={false}
            tickLine={{ stroke: '#333' }}
            tick={{ fontSize: 13, fill: '#111' }}
            tickFormatter={(v: number) => v.toFixed(p.digits)}
          />
          <YAxis
            type="number"
            dataKey="row"
            reversed
            domain={[0.4, 30.6]}
            ticks={rowTicks}
            interval={0}
            width={yw}
            tickSize={3}
            tickMargin={2}
            axisLine={false}
            tickLine={{ stroke: '#333' }}
            tick={(t: any) => (
              <text x={t.x} y={t.y} dy="0.35em" textAnchor="end" fontSize={13} fill="#111">
                {p.labels[t.payload.value - 1]}
              </text>
            )}
          />
          <Scatter
            data={data}
            isAnimationActive={false}
            shape={(s: any) => <circle cx={s.cx} cy={s.cy} r={s.payload.r} fill={s.payload.fill} />}
          />
        </ScatterChart>
      </div>
      <div style={{ position: 'absolute', left: p.left, top: p.top, width: w, height: h, boxSizing: 'border-box', border: '1.6px solid #858585' }} />
      <Txt x={p.axisTitleX} y={p.axisTitleY} size={13}>GeneRatio</Txt>
    </>
  );
}

type LegendProps = {
  counts: number[];
  titleX: number; countY: number; dotX: number; dotYs: number[]; countLabelX: number;
  padjY: number; barTop: number; barBottom: number; barLeft: number; barRight: number;
  tickLabels: string[]; tickYs: number[]; tickX: number;
};

function DotLegend(l: LegendProps) {
  const radius = radiusScale(l.counts);
  const barW = l.barRight - l.barLeft;
  return (
    <>
      <Txt x={l.titleX} y={l.countY} size={11.5} anchor="start">Count</Txt>
      {[20, 40, 60].map((c, i) => (
        <React.Fragment key={c}>
          <Dot x={l.dotX} y={l.dotYs[i]} r={radius(c)} />
          <Txt x={l.countLabelX} y={l.dotYs[i]} size={9.5} anchor="start">{c}</Txt>
        </React.Fragment>
      ))}
      <Txt x={l.titleX} y={l.padjY} size={11.5} anchor="start">p.adjust</Txt>
      <div
        style={{
          position: 'absolute',
          left: l.barLeft,
          top: l.barTop,
          width: barW,
          height: l.barBottom - l.barTop,
          background: `linear-gradient(to bottom, ${GRADIENT.join(',')})`,
        }}
      />
      {l.tickYs.map((y) => (
        <React.Fragment key={y}>
          <div style={{ position: 'absolute', left: l.barLeft, top: y - 0.4, width: 3.5, height: 0.8, background: '#fff' }} />
          <div style={{ position: 'absolute', left: l.barRight - 3.5, top: y - 0.4, width: 3.5, height: 0.8, background: '#fff' }} />
        </React.Fragment>
      ))}
      {l.tickLabels.map((t, i) => (
        <Txt key={t} x={l.tickX} y={l.tickYs[i]} size={9.5} anchor="start">{t}</Txt>
      ))}
    </>
  );
}

function TreePanel({ left, top, right, bottom, mode }: { left: number; top: number; right: number; bottom: number; mode: 'time' | 'type' }) {
  const yw = 30;
  const w = right - left;
  const h = bottom - top;
  const axisLine = { stroke: '#B0B0B0', strokeWidth: 1.8 };
  const tickStyle = { fontSize: 8, fill: '#4d4d4d' };
  const toPts = (arr: number[][]) => arr.map(([x, y]) => ({ x, y }));
  const cellShape = (fillOf: (d: any) => string) => (s: any) => (
    <circle cx={s.cx} cy={s.cy} r={2.2} fill={fillOf(s.payload)} />
  );
  const pathProps = { line: { stroke: '#111', strokeWidth: 1.2 }, lineType: 'joint' as const, shape: () => <g />, isAnimationActive: false };
  return (
    <div style={{ position: 'absolute', left: left - yw, top: top - 10 }}>
      <ScatterChart width={yw + w + 20} height={h + 40} margin={{ top: 10, right: 20, bottom: 0, left: 0 }}>
        <XAxis
          type="number"
          dataKey="x"
          domain={[-5.17, 5.17]}
          ticks={[-5, -2.5, 0, 2.5, 5]}
          interval={0}
          height={30}
          tickSize={2}
          tickMargin={2}
          axisLine={axisLine}
          tickLine={{ stroke: '#555' }}
          tick={tickStyle}
          tickFormatter={(v: number) => v.toFixed(1)}
        />
        <YAxis
          type="number"
          dataKey="y"
          domain={[-5.15, 3.13]}
          ticks={[-5, -2.5, 0, 2.5]}
          interval={0}
          width={yw}
          tickSize={2}
          tickMargin={2}
          axisLine={axisLine}
          tickLine={{ stroke: '#555' }}
          tick={tickStyle}
          tickFormatter={(v: number) => v.toFixed(1)}
        />
        <Scatter data={toPts(treeStem)} {...pathProps} />
        <Scatter data={toPts(treeUpper)} {...pathProps} />
        <Scatter data={toPts(treeRight)} {...pathProps} />
        <Scatter data={cellsM} isAnimationActive={false} shape={cellShape((d) => (mode === 'time' ? pseudotimeColor(d.t) : RED))} />
        <Scatter data={cellsP} isAnimationActive={false} shape={cellShape((d) => (mode === 'time' ? pseudotimeColor(d.t) : TEAL))} />
        <Scatter
          data={toPts(treeNode)}
          isAnimationActive={false}
          shape={(s: any) => (
            <g>
              <circle cx={s.cx} cy={s.cy} r={4} fill="#000" />
              <text x={s.cx} y={s.cy + 2.5} fontSize={7} fill="#fff" textAnchor="middle">1</text>
            </g>
          )}
        />
      </ScatterChart>
    </div>
  );
}

function UmapPanel() {
  const left = 130.6;
  const top = 101.7;
  const right = 493.5;
  const bottom = 420.7;
  const yw = 50;
  const toPts = (arr: number[][]) => arr.map(([x, y]) => ({ x, y }));
  const axisLine = { stroke: '#222', strokeWidth: 1.4 };
  return (
    <div style={{ position: 'absolute', left: left - yw, top: top - 10 }}>
      <ScatterChart width={yw + right - left + 20} height={bottom - top + 50} margin={{ top: 10, right: 20, bottom: 0, left: 0 }}>
        <XAxis
          type="number"
          dataKey="x"
          domain={[-5.66, 6]}
          ticks={[-3, 0, 3, 6]}
          interval={0}
          height={40}
          tickSize={4}
          tickMargin={3}
          axisLine={axisLine}
          tickLine={{ stroke: '#222' }}
          tick={{ fontSize: 14.5, fill: '#111' }}
        />
        <YAxis
          type="number"
          dataKey="y"
          domain={[-5.02, 6.16]}
          ticks={[-5, -2.5, 0, 2.5, 5]}
          interval={0}
          width={yw}
          tickSize={4}
          tickMargin={3}
          axisLine={axisLine}
          tickLine={{ stroke: '#222' }}
          tick={{ fontSize: 14.5, fill: '#111' }}
          tickFormatter={(v: number) => v.toFixed(1)}
        />
        <Scatter data={toPts(umapM)} isAnimationActive={false} shape={(s: any) => <circle cx={s.cx} cy={s.cy} r={1.3} fill={RED} />} />
        <Scatter data={toPts(umapP)} isAnimationActive={false} shape={(s: any) => <circle cx={s.cx} cy={s.cy} r={1.3} fill={TEAL} />} />
      </ScatterChart>
    </div>
  );
}

export default function App() {
  return (
    <div style={{ position: 'absolute', left: 0, top: 0, width: 2008, height: 1960, background: '#fff', fontFamily: FONT, overflow: 'hidden' }}>
      <Txt x={72} y={57} size={16.5}>A</Txt>
      <Txt x={733} y={47} size={16.5}>B</Txt>
      <Txt x={1379} y={47} size={16.5}>C</Txt>
      <Txt x={33} y={598} size={16.5}>D</Txt>
      <Txt x={1015} y={586} size={16.5}>E</Txt>
      <Txt x={31} y={1293} size={16.5}>F</Txt>
      <Txt x={1017} y={1293} size={16.5}>G</Txt>

      <UmapPanel />
      <Txt x={312} y={85} size={18} bold>type</Txt>
      <Txt x={311} y={453} size={16}>UMAP_1</Txt>
      <Txt x={87} y={261} size={16} rotate>UMAP_2</Txt>
      <Dot x={519} y={257} r={4} color={RED} />
      <Dot x={519} y={275} r={4} color={TEAL} />
      <Txt x={535} y={257} size={13.5} anchor="start">M</Txt>
      <Txt x={535} y={275} size={13.5} anchor="start">P</Txt>

      <TreePanel left={733.9} top={76.7} right={1238} bottom={432.3} mode="time" />
      <Txt x={985.6} y={448} size={9.5}>Component 1</Txt>
      <Txt x={712.8} y={254} size={9.5} rotate>Component 2</Txt>
      <Txt x={974} y={49.5} size={9} anchor="end">Pseudotime</Txt>
      <div style={{ position: 'absolute', left: 978, top: 34, width: 64.4, height: 19.3, background: 'linear-gradient(to right, #132B43, #56B1F7)' }} />
      {[['0.0', 977.6], ['2.5', 990.6], ['5.0', 1003], ['7.5', 1015.4], ['10.0', 1026.8], ['12.5', 1041]].map(([t, x]) => (
        <Txt key={t as string} x={x as number} y={60.3} size={6.8}>{t}</Txt>
      ))}

      <TreePanel left={1399.8} top={88.7} right={1862} bottom={424.3} mode="type" />
      <Txt x={1630.4} y={439} size={9.5}>Component 1</Txt>
      <Txt x={1380} y={255} size={9.5} rotate>Component 2</Txt>
      <Txt x={1606.8} y={69} size={8.5}>type</Txt>
      <Dot x={1623.7} y={69} r={1.8} color={RED} />
      <Txt x={1635.5} y={69} size={7.5}>M</Txt>
      <Dot x={1648.5} y={69} r={1.8} color={TEAL} />
      <Txt x={1659.9} y={69} size={7.5}>P</Txt>

      <DotPanel left={459} right={873.7} top={622.7} bottom={1177.8} labels={labelsD} ratios={ratiosD} counts={countsD} padj={padjD}
        domain={[.0293, .1762]} ticks={[.03, .06, .09, .12, .15]} minor={[.045, .075, .105, .135, .165]} digits={2} padjMax={2.15e-9} axisTitleX={665} axisTitleY={1204} />
      <DotLegend counts={countsD} titleX={891.6} countY={802} dotX={902.4} dotYs={[822, 840.6, 861]} countLabelX={919.6} padjY={902}
        barTop={912.4} barBottom={1005} barLeft={891.6} barRight={910} tickLabels={['5.0e-10', '1.0e-09', '1.5e-09', '2.0e-09']} tickYs={[935, 956, 977.3, 999]} tickX={915.8} />

      <DotPanel left={1274.5} right={1876.8} top={629.2} bottom={1184.3} labels={labelsE} ratios={ratiosE} counts={countsE} padj={padjE}
        domain={[.0039, .1606]} ticks={[.04, .08, .12, .16]} minor={[.02, .06, .1, .14]} digits={2} padjMax={.00375} axisTitleX={1575} axisTitleY={1210} />
      <DotLegend counts={countsE} titleX={1894.2} countY={806} dotX={1906.4} dotYs={[826.7, 846.7, 868.4]} countLabelX={1923} padjY={909}
        barTop={920.6} barBottom={1012.4} barLeft={1894.8} barRight={1913.5} tickLabels={['0.001', '0.002', '0.003']} tickYs={[945, 969.6, 994]} tickX={1919} />

      <DotPanel left={428.6} right={876.9} top={1318.3} bottom={1873.9} labels={labelsF} ratios={ratiosF} counts={countsF} padj={padjF}
        domain={[.0021, .1579]} ticks={[.04, .08, .12]} minor={[.02, .06, .1, .14]} digits={2} padjMax={.01655} axisTitleX={652} axisTitleY={1900} />
      <DotLegend counts={countsF} titleX={894} countY={1496} dotX={905.6} dotYs={[1515.7, 1535.5, 1557.4]} countLabelX={923.5} padjY={1599}
        barTop={1610} barBottom={1702} barLeft={894.8} barRight={913} tickLabels={['0.004', '0.008', '0.012', '0.016']} tickYs={[1632.3, 1654.6, 1676.9, 1698.8]} tickX={919} />

      <DotPanel left={1372.8} right={1876.8} top={1312} bottom={1867} labels={labelsG} ratios={ratiosG} counts={countsG} padj={padjG}
        domain={[.0102, .2778]} ticks={[.1, .2]} minor={[.05, .15, .25]} digits={1} padjMax={.0263} axisTitleX={1624} axisTitleY={1894} />
      <DotLegend counts={countsG} titleX={1894.2} countY={1623.4} dotX={1906.4} dotYs={[1643.6, 1663, 1684.5]} countLabelX={1923} padjY={1490}
        barTop={1500.5} barBottom={1593.5} barLeft={1894.8} barRight={1913.5} tickLabels={['0.005', '0.010', '0.015', '0.020', '0.025']} tickYs={[1518.6, 1536.3, 1554, 1571, 1589]} tickX={1919} />
    </div>
  );
}
